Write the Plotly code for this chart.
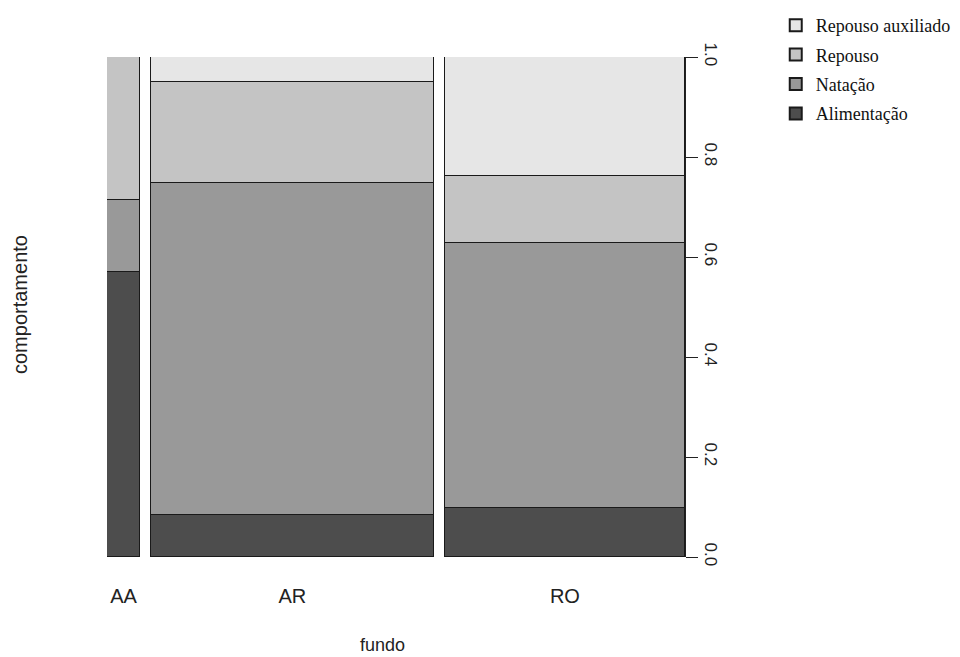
import plotly.graph_objects as go

categories = ["AA", "AR", "RO"]
counts = [7, 60, 51]
behaviours = ["Alimentação", "Natação", "Repouso", "Repouso auxiliado"]
props = {
    "Alimentação": [0.571, 0.084, 0.098],
    "Natação": [0.143, 0.664, 0.530],
    "Repouso": [0.286, 0.202, 0.134],
    "Repouso auxiliado": [0.0, 0.050, 0.238],
}
colors = {
    "Alimentação": "#4d4d4d",
    "Natação": "#999999",
    "Repouso": "#c4c4c4",
    "Repouso auxiliado": "#e6e6e6",
}
y_ticks = [0.0, 0.2, 0.4, 0.6, 0.8, 1.0]

gap = 0.02
total = sum(counts)
widths = [c / total for c in counts]
centers = []
pos = 0.0
for w in widths:
    centers.append(pos + w / 2)
    pos += w + gap
xmax = pos - gap

fig = go.Figure()
for i, b in enumerate(behaviours):
    fig.add_trace(go.Bar(
        x=centers, y=props[b], width=widths, name=b, legendgroup=b,
        legendrank=1000 - i,
        marker=dict(color=colors[b], line=dict(color="#1a1a1a", width=1.2)),
    ))

fig.update_layout(
    width=960, height=657,
    margin=dict(l=99, r=283, t=49, b=108, autoexpand=False),
    plot_bgcolor="white", paper_bgcolor="white",
    barmode="stack", bargap=0,
    showlegend=True,
    legend=dict(
        x=1.157, y=1.1, xanchor="left", yanchor="top",
        traceorder="grouped",
        font=dict(family="Liberation Serif", size=18, color="#111111"),
        bgcolor="rgba(0,0,0,0)", itemsizing="constant", tracegroupgap=3,
        itemwidth=30,
    ),
    xaxis=dict(
        range=[0, xmax], showgrid=False, zeroline=False, showline=False,
        tickvals=centers, ticktext=categories, ticks="",
        ticklabelstandoff=25, automargin=False,
        tickfont=dict(family="Liberation Sans", size=20, color="#222222"),
        fixedrange=True,
    ),
    yaxis=dict(
        range=[0, 1], side="right", showgrid=False, zeroline=False,
        showline=True, linecolor="#222222", linewidth=1,
        ticks="outside", ticklen=12, tickcolor="#222222",
        tickvals=y_ticks, ticktext=[f"{v:.1f}" for v in y_ticks],
        tickangle=90, automargin=False,
        tickfont=dict(family="Liberation Sans", size=17, color="#222222"),
        fixedrange=True,
    ),
    annotations=[
        dict(text="fundo", x=0.476, y=-0.176, xref="paper", yref="paper",
             xanchor="center", yanchor="middle", showarrow=False,
             font=dict(family="Liberation Sans", size=18, color="#222222")),
        dict(text="comportamento", x=-0.1505, y=0.504, xref="paper", yref="paper",
             xanchor="center", yanchor="middle", showarrow=False, textangle=-90,
             font=dict(family="Liberation Sans", size=20, color="#222222")),
    ],
)

fig.write_html("out.html")
